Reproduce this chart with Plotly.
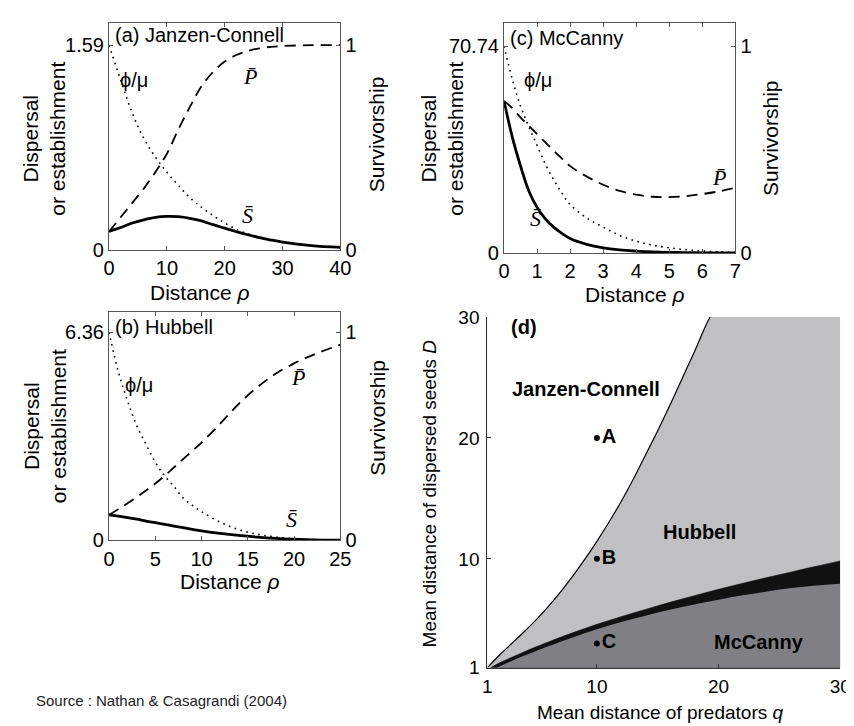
import plotly.graph_objects as go

# ---------------- data ----------------
# Panel (a) Janzen-Connell
RHO_A = [0, 2, 4, 6, 8, 10, 12, 14, 16, 18, 20, 22, 24, 26, 28, 30, 35, 40]
PHI_A = [1.59, 1.32, 1.065, 0.867, 0.723, 0.604, 0.501, 0.405, 0.332, 0.267, 0.210,
         0.162, 0.126, 0.100, 0.081, 0.064, 0.035, 0.021]
S_A = [0.145, 0.175, 0.210, 0.235, 0.254, 0.262, 0.259, 0.246, 0.226, 0.197, 0.170,
       0.143, 0.119, 0.097, 0.078, 0.062, 0.035, 0.021]
P_A = [0.09, 0.16, 0.23, 0.30, 0.38, 0.47, 0.59, 0.70, 0.80, 0.87, 0.92, 0.952,
       0.972, 0.985, 0.992, 0.996, 1.0, 1.0]

# Panel (b) Hubbell
RHO_B = [0, 1, 2, 3, 4, 5, 6, 7, 8, 9, 10, 12, 14, 16, 18, 20, 22, 25]
PHI_B = [6.36, 5.15, 4.26, 3.50, 2.93, 2.385, 1.97, 1.65, 1.30, 1.07, 0.878, 0.56,
         0.331, 0.191, 0.102, 0.051, 0.025, 0.006]
S_B = [0.782, 0.744, 0.70, 0.649, 0.591, 0.541, 0.49, 0.439, 0.388, 0.337, 0.293,
       0.216, 0.153, 0.102, 0.064, 0.038, 0.019, 0.006]
P_B = [0.123, 0.15, 0.178, 0.208, 0.24, 0.273, 0.31, 0.35, 0.39, 0.43, 0.47, 0.56,
       0.655, 0.735, 0.80, 0.85, 0.89, 0.94]

# Panel (c) McCanny
RHO_C = [0, 0.25, 0.5, 0.75, 1, 1.25, 1.5, 1.75, 2, 2.5, 3, 3.5, 4, 4.5, 5, 5.5, 6, 6.5, 7]
PHI_C = [70.74, 59.4, 50.2, 43.2, 36.8, 30.4, 25.1, 20.5, 16.6, 12.0, 8.84, 6.01,
         4.03, 2.69, 1.77, 1.13, 0.71, 0.42, 0.21]
S_C = [52.0, 39.6, 29.7, 21.2, 15.6, 11.7, 8.84, 6.72, 4.95, 2.97, 1.77, 1.06,
       0.64, 0.35, 0.21, 0.14, 0.07, 0.035, 0.0]
P_C = [0.735, 0.70, 0.655, 0.615, 0.575, 0.535, 0.495, 0.457, 0.42, 0.37, 0.33,
       0.30, 0.282, 0.272, 0.27, 0.275, 0.285, 0.298, 0.315]

# Panel (d) region boundaries
BOUND_Q = [1, 2, 3, 4, 5, 6, 7, 8, 9, 10, 11, 12, 13, 14, 15, 16, 17, 18, 19, 19.3]
BOUND_D = [1, 2.05, 3.0, 3.95, 4.95, 6.05, 7.25, 8.55, 9.95, 11.45, 13.05, 14.75,
           16.6, 18.6, 20.6, 22.7, 24.9, 27.1, 29.4, 30.0]
BAND_TOP_Q = [1.27, 2, 3, 4, 5, 6, 8, 10, 12, 14, 16, 18, 20, 22, 24, 26, 28, 30]
BAND_TOP_D = [1.0, 1.4, 1.85, 2.3, 2.72, 3.12, 3.88, 4.58, 5.22, 5.82, 6.4, 6.95,
              7.48, 7.98, 8.46, 8.92, 9.38, 9.83]
BAND_BOT_Q = [1.8, 2, 3, 4, 5, 6, 8, 10, 12, 14, 16, 18, 20, 22, 24, 26, 28, 30]
BAND_BOT_D = [1.0, 1.1, 1.55, 1.98, 2.38, 2.76, 3.5, 4.17, 4.77, 5.3, 5.78, 6.22,
              6.62, 6.98, 7.3, 7.58, 7.8, 7.95]
Q_MIN, Q_MAX = 1, 30
D_MIN, D_MAX = 1, 30
POINT_Q = [10, 10, 10]
POINT_D = [20, 10, 3]
POINT_LABELS = ["A", "B", "C"]

# ---------------- styling ----------------
W, H = 854, 726
FONT = "Liberation Sans, Arial, sans-serif"
SERIF = "Liberation Serif, Times New Roman, serif"
TICKF = dict(family=FONT, size=20, color="black")
TICKF_D = dict(family=FONT, size=19, color="black")
LINEC = "#555555"
LIGHT = "#c0c0c2"
DARK = "#808084"
BAND = "#111111"


def fx(p):
    return p / W


def fy(p):
    return 1 - p / H


fig = go.Figure()


def add_panel(rho, phi, s, p, xa, ya, ya2):
    fig.add_trace(go.Scatter(x=rho, y=phi, mode="lines", xaxis=xa, yaxis=ya,
                             line=dict(color="black", width=1.6, dash="1.6px,4.5px", shape="spline")))
    fig.add_trace(go.Scatter(x=rho, y=p, mode="lines", xaxis=xa, yaxis=ya2,
                             line=dict(color="black", width=1.8, dash="11px,7px", shape="spline")))
    fig.add_trace(go.Scatter(x=rho, y=s, mode="lines", xaxis=xa, yaxis=ya,
                             line=dict(color="black", width=2.8, shape="spline")))


add_panel(RHO_A, PHI_A, S_A, P_A, "x", "y", "y2")
add_panel(RHO_B, PHI_B, S_B, P_B, "x2", "y3", "y4")
add_panel(RHO_C, PHI_C, S_C, P_C, "x3", "y5", "y6")

# panel (d): light grey background of the region map, white Janzen-Connell zone,
# black transition band and dark grey McCanny zone
fig.add_shape(type="rect", xref="x4", yref="y7", x0=Q_MIN, x1=Q_MAX, y0=D_MIN, y1=D_MAX,
              fillcolor=LIGHT, line=dict(width=0), layer="below")
fig.add_trace(go.Scatter(x=BOUND_Q, y=BOUND_D, mode="lines", fill="tozerox",
                         fillcolor="white", line=dict(width=0, color="white", shape="spline"),
                         xaxis="x4", yaxis="y7"))
fig.add_trace(go.Scatter(x=BAND_TOP_Q, y=BAND_TOP_D, mode="lines", fill="tozeroy",
                         fillcolor=BAND, line=dict(width=0.6, color=BAND, shape="spline"),
                         xaxis="x4", yaxis="y7"))
fig.add_trace(go.Scatter(x=BAND_BOT_Q, y=BAND_BOT_D, mode="lines", fill="tozeroy",
                         fillcolor=DARK, line=dict(width=0, color=DARK, shape="spline"),
                         xaxis="x4", yaxis="y7"))
fig.add_trace(go.Scatter(x=BOUND_Q, y=BOUND_D, mode="lines",
                         line=dict(color="black", width=1.2, shape="spline"),
                         xaxis="x4", yaxis="y7"))
fig.add_trace(go.Scatter(x=POINT_Q, y=POINT_D, mode="markers+text",
                         marker=dict(color="black", size=6),
                         text=["<b>%s</b>" % t for t in POINT_LABELS],
                         textposition="middle right",
                         textfont=dict(family=FONT, size=20, color="black"),
                         xaxis="x4", yaxis="y7"))

common_x = dict(ticks="inside", ticklen=4, tickcolor=LINEC, showline=True,
                linecolor=LINEC, linewidth=1.2, mirror="ticks", showgrid=False,
                zeroline=False, tickfont=TICKF)
common_y = dict(ticks="inside", ticklen=4, tickcolor=LINEC, showline=True,
                linecolor=LINEC, linewidth=1.2, showgrid=False, zeroline=False,
                tickfont=TICKF)

dom_xab = [fx(97), fx(333)]
dom_xc = [fx(500), fx(736)]

layout = dict(
    width=W, height=H, margin=dict(l=0, r=0, t=0, b=0),
    paper_bgcolor="white", plot_bgcolor="white", showlegend=False,
    font=dict(family=FONT, size=20, color="black"),
    xaxis=dict(common_x, domain=dom_xab, range=[0, 40], anchor="y",
               tickvals=[0, 10, 20, 30, 40]),
    yaxis=dict(common_y, domain=[fy(239), fy(5)], range=[0, 1.763], anchor="x",
               tickvals=[0, 1.59], ticktext=["0", "1.59"]),
    yaxis2=dict(common_y, overlaying="y", side="right", anchor="x", range=[0, 1.109],
                tickvals=[0, 1], ticktext=["0", "1"]),
    xaxis2=dict(common_x, domain=dom_xab, range=[0, 25], anchor="y3",
                tickvals=[0, 5, 10, 15, 20, 25]),
    yaxis3=dict(common_y, domain=[fy(538), fy(303)], range=[0, 6.968], anchor="x2",
                tickvals=[0, 6.36], ticktext=["0", "6.36"]),
    yaxis4=dict(common_y, overlaying="y3", side="right", anchor="x2", range=[0, 1.0956],
                tickvals=[0, 1], ticktext=["0", "1"]),
    xaxis3=dict(common_x, domain=dom_xc, range=[0, 7], anchor="y5",
                tickvals=[0, 1, 2, 3, 4, 5, 6, 7]),
    yaxis5=dict(common_y, domain=[fy(242), fy(5)], range=[0, 78.71], anchor="x3",
                tickvals=[0, 70.74], ticktext=["0", "70.74"]),
    yaxis6=dict(common_y, overlaying="y5", side="right", anchor="x3", range=[0, 1.1127],
                tickvals=[0, 1], ticktext=["0", "1"]),
    xaxis4=dict(ticks="inside", ticklen=4, tickcolor="#333", showline=True,
                linecolor="#333", linewidth=1.2, showgrid=False, zeroline=False,
                tickfont=TICKF_D, domain=[fx(483), fx(843)], range=[Q_MIN, Q_MAX],
                anchor="y7", tickvals=[1, 10, 20, 30], ticklabelstandoff=1),
    yaxis7=dict(ticks="inside", ticklen=4, tickcolor="#333", showline=True,
                linecolor="#333", linewidth=1.2, showgrid=False, zeroline=False,
                tickfont=TICKF_D, domain=[fy(669), fy(308)], range=[D_MIN, D_MAX],
                anchor="x4", tickvals=[1, 10, 20, 30], ticklabelstandoff=3),
)
fig.update_layout(**layout)


def ann(text, x, y, size=20, xanchor="center", yanchor="middle", angle=0,
        family=FONT, color="black"):
    fig.add_annotation(text=text, x=fx(x), y=fy(y), xref="paper", yref="paper",
                       showarrow=False, xanchor=xanchor, yanchor=yanchor,
                       textangle=angle, font=dict(family=family, size=size, color=color))


PB = "<i>P\u0304</i>"
SB = "<i>S\u0304</i>"
PHIMU = "\u03d5/\u03bc"
TITLE = 21

# panel (a)
ann("(a) Janzen-Connell", 101, 17, xanchor="left")
ann(PHIMU, 106, 64, xanchor="left")
ann(PB, 241, 60, size=22, family=SERIF)
ann(SB, 238, 203, size=22, family=SERIF)
ann("Distance <i>\u03c1</i>", 190, 283, size=TITLE)
ann("Dispersal<br>or establishment", 31, 124, angle=-90, size=TITLE)
ann("Survivorship", 370, 120, angle=-90, size=TITLE)

# panel (b)
ann("(b) Hubbell", 101, 318, xanchor="left")
ann(PHIMU, 111, 378, xanchor="left")
ann(PB, 290, 370, size=22, family=SERIF)
ann(SB, 283, 516, size=22, family=SERIF)
ann("Distance <i>\u03c1</i>", 220, 580, size=TITLE)
ann("Dispersal<br>or establishment", 31, 420, angle=-90, size=TITLE)
ann("Survivorship", 370, 412, angle=-90, size=TITLE)

# panel (c)
ann("(c) McCanny", 504, 21, xanchor="left")
ann(PHIMU, 518, 64, xanchor="left")
ann(PB, 719, 164, size=22, family=SERIF)
ann(SB, 532, 206, size=22, family=SERIF)
ann("Distance <i>\u03c1</i>", 634, 285, size=TITLE)
ann("Dispersal<br>or establishment", 437, 124, angle=-90, size=TITLE)
ann("Survivorship", 772, 124, angle=-90, size=TITLE)

# panel (d)
ann("<b>(d)</b>", 505, 318, xanchor="left")
ann("<b>Janzen-Connell</b>", 584, 382)
ann("<b>Hubbell</b>", 699, 529)
ann("<b>McCanny</b>", 760, 643)
ann("Mean distance of predators <i>q</i>", 660, 715, size=19)
ann("Mean distance of dispersed seeds <i>D</i>", 424, 490, angle=-90, size=19)

# source
ann("Source : Nathan & Casagrandi (2004)", 20, 703, size=15, xanchor="left", color="#222")

fig.write_html("out.html")
